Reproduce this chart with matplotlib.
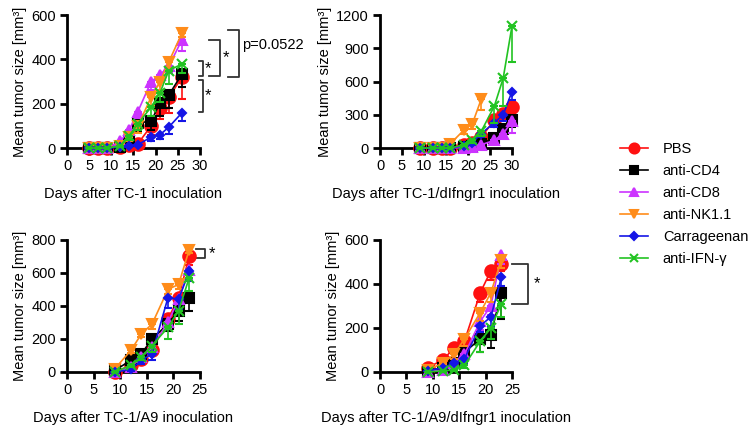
import matplotlib
matplotlib.use("Agg")
import matplotlib.pyplot as plt
from matplotlib.lines import Line2D

plt.rcParams['font.family'] = ['Liberation Sans', 'DejaVu Sans']
plt.rcParams['font.size'] = 10.5

groups = ['PBS', 'anti-CD4', 'anti-CD8', 'anti-NK1.1', 'Carrageenan', 'anti-IFN-\u03b3']
colors = ['#ff1010', '#000000', '#cc33ff', '#ff8c1a', '#1515e6', '#22c322']
markers = ['o', 's', '^', 'v', 'D', 'x']
msizes = [9, 6.5, 7, 7, 4.5, 7]

# panel A: TC-1
days_a = [5, 7, 9, 12, 14, 16, 19, 21, 23, 26]
pbs_a = [0, 0, 0, 5, 15, 20, 100, 180, 230, 320]
cd4_a = [0, 0, 0, 5, 30, 115, 120, 205, 240, 335]
cd8_a = [0, 0, 0, 30, 80, 165, 300, 330, 370, 490]
nk_a = [0, 0, 0, 10, 50, 100, 230, 300, 390, 520]
car_a = [0, 0, 0, 5, 10, 15, 50, 60, 95, 160]
ifn_a = [0, 0, 0, 10, 55, 110, 185, 250, 350, 380]
err_pbs_a = [0, 0, 0, 3, 10, 10, 40, 50, 70, 100]
err_cd4_a = [0, 0, 0, 3, 20, 40, 40, 60, 60, 60]
err_cd8_a = [0, 0, 0, 10, 20, 30, 40, 30, 30, 50]
err_nk_a = [0, 0, 0, 5, 20, 30, 40, 40, 30, 20]
err_car_a = [0, 0, 0, 2, 5, 5, 20, 20, 30, 40]
err_ifn_a = [0, 0, 0, 5, 20, 30, 40, 40, 60, 40]

# panel B: TC-1/dIfngr1
days_b = [9, 12, 14, 16, 19, 21, 23, 26, 28, 30]
days_b_nk = [9, 12, 14, 16, 19, 21, 23]
pbs_b = [0, 0, 0, 0, 30, 50, 100, 250, 310, 370]
cd4_b = [0, 0, 0, 0, 10, 20, 40, 90, 170, 250]
cd8_b = [0, 0, 0, 0, 5, 10, 30, 70, 130, 240]
nk_b = [0, 0, 0, 40, 160, 220, 440]
car_b = [0, 0, 0, 0, 20, 50, 130, 230, 300, 510]
ifn_b = [0, 0, 0, 0, 30, 70, 150, 380, 630, 1100]
err_pbs_b = [0, 0, 0, 0, 10, 20, 30, 40, 40, 60]
err_cd4_b = [0, 0, 0, 0, 5, 10, 15, 30, 50, 60]
err_cd8_b = [0, 0, 0, 0, 3, 5, 10, 20, 40, 100]
err_nk_b = [0, 0, 0, 10, 30, 50, 100]
err_car_b = [0, 0, 0, 0, 10, 20, 30, 40, 60, 80]
err_ifn_b = [0, 0, 0, 0, 10, 20, 40, 150, 250, 320]

# panel C: TC-1/A9
days_c = [9, 12, 14, 16, 19, 21, 23]
pbs_c = [0, 40, 80, 130, 320, 450, 700]
cd4_c = [10, 70, 110, 200, 290, 370, 450]
cd8_c = [0, 30, 90, 150, 300, 440, 620]
nk_c = [20, 130, 230, 290, 500, 530, 740]
car_c = [0, 15, 70, 110, 450, 440, 610]
ifn_c = [0, 40, 90, 160, 270, 370, 570]
err_pbs_c = [0, 10, 20, 30, 40, 40, 50]
err_cd4_c = [5, 10, 20, 30, 40, 60, 80]
err_cd8_c = [0, 10, 20, 30, 40, 60, 60]
err_nk_c = [5, 15, 20, 30, 30, 30, 20]
err_car_c = [0, 10, 20, 40, 60, 60, 60]
err_ifn_c = [0, 10, 20, 40, 70, 80, 80]

# panel D: TC-1/A9/dIfngr1
days_d = [9, 12, 14, 16, 19, 21, 23]
pbs_d = [20, 55, 110, 140, 360, 460, 490]
cd4_d = [5, 20, 40, 90, 150, 170, 360]
cd8_d = [0, 10, 40, 80, 230, 300, 530]
nk_d = [10, 40, 80, 150, 270, 360, 510]
car_d = [5, 20, 40, 60, 210, 250, 430]
ifn_d = [0, 5, 10, 30, 140, 200, 310]
err_pbs_d = [5, 10, 15, 30, 40, 40, 30]
err_cd4_d = [3, 10, 10, 20, 60, 60, 120]
err_cd8_d = [0, 5, 10, 20, 40, 40, 40]
err_nk_d = [5, 10, 20, 30, 40, 40, 40]
err_car_d = [3, 5, 10, 20, 30, 40, 40]
err_ifn_d = [0, 3, 5, 10, 50, 50, 60]

panels = [
    ([days_a] * 6, [pbs_a, cd4_a, cd8_a, nk_a, car_a, ifn_a],
     [err_pbs_a, err_cd4_a, err_cd8_a, err_nk_a, err_car_a, err_ifn_a],
     'Days after TC-1 inoculation', 30, 600, 200),
    ([days_b, days_b, days_b, days_b_nk, days_b, days_b], [pbs_b, cd4_b, cd8_b, nk_b, car_b, ifn_b],
     [err_pbs_b, err_cd4_b, err_cd8_b, err_nk_b, err_car_b, err_ifn_b],
     'Days after TC-1/dIfngr1 inoculation', 30, 1200, 300),
    ([days_c] * 6, [pbs_c, cd4_c, cd8_c, nk_c, car_c, ifn_c],
     [err_pbs_c, err_cd4_c, err_cd8_c, err_nk_c, err_car_c, err_ifn_c],
     'Days after TC-1/A9 inoculation', 25, 800, 200),
    ([days_d] * 6, [pbs_d, cd4_d, cd8_d, nk_d, car_d, ifn_d],
     [err_pbs_d, err_cd4_d, err_cd8_d, err_nk_d, err_car_d, err_ifn_d],
     'Days after TC-1/A9/dIfngr1 inoculation', 25, 600, 200),
]

fig = plt.figure(figsize=(7.54, 4.33), dpi=100)
rects = [[0.089, 0.658, 0.176, 0.307], [0.504, 0.658, 0.175, 0.307],
         [0.089, 0.141, 0.176, 0.305], [0.504, 0.141, 0.175, 0.305]]
axes = []
for rect, (xs, ys, es, xlabel, xmax, ymax, ystep) in zip(rects, panels):
    ax = fig.add_axes(rect)
    for i in range(6):
        # error bars drawn below the mean only
        ax.errorbar(xs[i], ys[i], yerr=[es[i], [0] * len(es[i])], color=colors[i],
                    marker=markers[i], ms=msizes[i], mew=1.5, lw=1.2, capsize=3,
                    elinewidth=1.2, capthick=1.2, clip_on=False, zorder=3 + i)
    ax.set_xlim(0, xmax)
    ax.set_ylim(0, ymax)
    ax.set_xticks(range(0, xmax + 1, 5))
    ax.set_yticks(range(0, ymax + 1, ystep))
    for s in ['top', 'right']:
        ax.spines[s].set_visible(False)
    for s in ['left', 'bottom']:
        ax.spines[s].set_linewidth(2)
    ax.tick_params(width=2, length=5, labelsize=10.5, pad=3)
    ax.set_xlabel(xlabel, fontsize=10.5, labelpad=10)
    ax.set_ylabel('Mean tumor size [mm\u00b3]', fontsize=10.5, labelpad=3)
    axes.append(ax)

br = dict(color='#333333', lw=1.3, clip_on=False)

def bracket(ax, x0, x1, y0, y1):
    ax.plot([x0, x1, x1, x0], [y0, y0, y1, y1], **br)

ax = axes[0]
bracket(ax, 29.8, 30.7, 392, 324)
bracket(ax, 29.8, 30.7, 309, 165)
bracket(ax, 32.1, 34.6, 490, 324)
bracket(ax, 36.4, 38.9, 532, 320)
ax.text(31.2, 358, '*', fontsize=12, va='center', ha='left')
ax.text(31.2, 237, '*', fontsize=12, va='center', ha='left')
ax.text(35.1, 410, '*', fontsize=12, va='center', ha='left')
ax.text(39.6, 465, 'p=0.0522', fontsize=10.5, va='center', ha='left')

ax = axes[2]
bracket(ax, 24.2, 26.0, 745, 690)
ax.text(26.6, 718, '*', fontsize=12, va='center', ha='left')

ax = axes[3]
bracket(ax, 25.1, 28.0, 491, 309)
ax.text(29.2, 400, '*', fontsize=12, va='center', ha='left')

handles = [Line2D([], [], color=colors[i], marker=markers[i], ms=msizes[i] * 0.8,
                  mew=1.5, lw=1.2) for i in range(6)]
fig.legend(handles, groups, loc='upper left', bbox_to_anchor=(0.822, 0.672),
           frameon=False, fontsize=10.5, handlelength=1.95, labelspacing=0.55,
           handletextpad=1.0, borderpad=0, borderaxespad=0)

fig.savefig('out.png', dpi=100)
